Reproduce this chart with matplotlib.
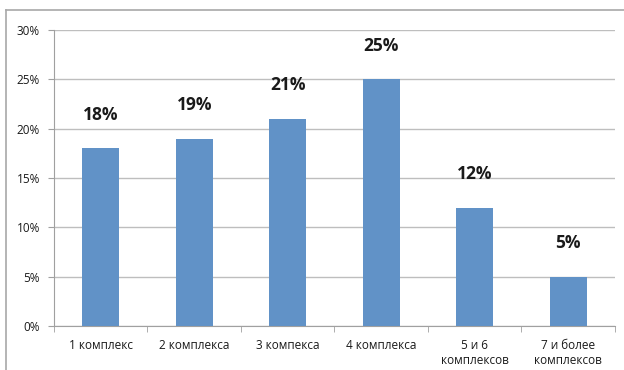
import matplotlib.pyplot as plt
from matplotlib.ticker import FuncFormatter, FixedLocator
from matplotlib.lines import Line2D

categories = ["1 комплекс", "2 комплекса", "3 компекса", "4 комплекса",
              "5 и 6\nкомплексов", "7 и более\nкомплексов"]
values = [18, 19, 21, 25, 12, 5]
y_ticks = [0, 5, 10, 15, 20, 25, 30]

plt.rcParams['font.family'] = ['Open Sans', 'DejaVu Sans']

fig = plt.figure(figsize=(6.24, 3.7), dpi=100)
ax = fig.add_axes([0.0865, 0.1189, 0.899, 0.80])

x = range(len(categories))
ax.bar(x, values, width=0.4, color='#6192C7', zorder=3)

for xi, v in zip(x, values):
    ax.annotate(f"{v}%", (xi, v), xytext=(0, 24), textcoords='offset points',
                ha='center', va='center', fontsize=12.5, fontweight='bold', color='#1A1A1A')

ax.set_xlim(-0.5, len(categories) - 0.5)
ax.set_ylim(0, 30)
ax.set_yticks(y_ticks)
ax.yaxis.set_major_formatter(FuncFormatter(lambda v, p: f"{int(v)}%"))
ax.yaxis.grid(True, color='#BEBEBE', linewidth=1.0, zorder=0)

ax.set_xticks(list(x))
ax.set_xticklabels(categories, fontsize=8.5, color='#1A1A1A', linespacing=1.25)
ax.xaxis.set_minor_locator(FixedLocator([i + 0.5 for i in range(-1, len(categories))]))
ax.tick_params(axis='x', which='major', length=0, pad=9)
ax.tick_params(axis='x', which='minor', length=4, color='#A0A0A0')
ax.tick_params(axis='y', length=4, color='#A0A0A0', labelsize=8.5, labelcolor='#1A1A1A', pad=6)

for side in ['top', 'right']:
    ax.spines[side].set_visible(False)
for side in ['left', 'bottom']:
    ax.spines[side].set_color('#A0A0A0')

# outer chart frame
fig.add_artist(Line2D([0.0096, 1.0], [0.973, 0.973], transform=fig.transFigure, color='#A8A8A8', lw=1.2))
fig.add_artist(Line2D([0.0096, 0.0096], [0.0, 0.973], transform=fig.transFigure, color='#A8A8A8', lw=1.2))

fig.savefig('out.png', dpi=100)
